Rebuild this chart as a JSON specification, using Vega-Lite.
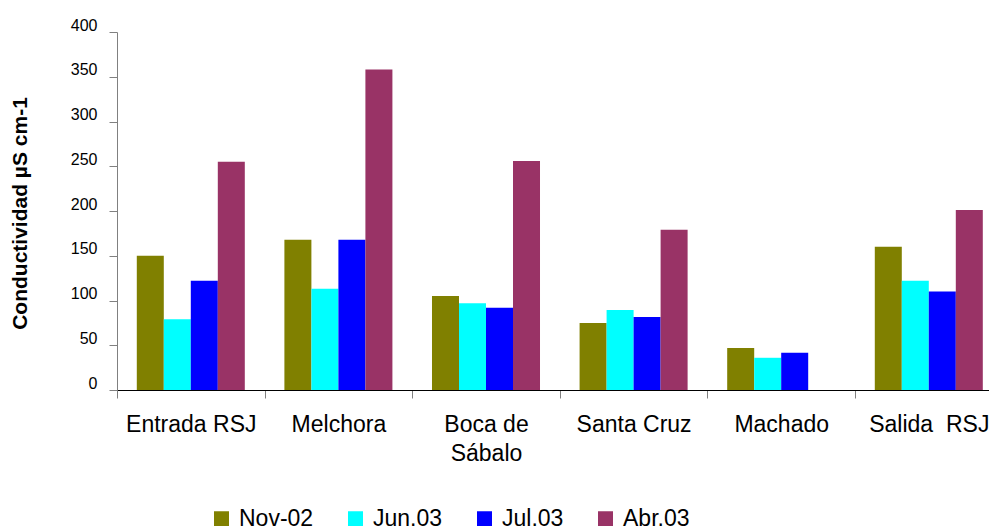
{
  "$schema": "https://vega.github.io/schema/vega-lite/v6.json",
  "autosize": {"type": "none"},
  "width": 872,
  "height": 358,
  "padding": {"left": 117, "top": 32, "right": 0, "bottom": 136},
  "background": "white",
  "config": {
    "view": {"stroke": null},
    "font": "Liberation Sans",
    "axis": {"grid": false}
  },
  "data": {
    "values": [
      {"sitio": "Entrada RSJ", "fecha": "Nov-02", "valor": 150},
      {"sitio": "Entrada RSJ", "fecha": "Jun.03", "valor": 79},
      {"sitio": "Entrada RSJ", "fecha": "Jul.03", "valor": 122},
      {"sitio": "Entrada RSJ", "fecha": "Abr.03", "valor": 255},
      {"sitio": "Melchora", "fecha": "Nov-02", "valor": 168},
      {"sitio": "Melchora", "fecha": "Jun.03", "valor": 113},
      {"sitio": "Melchora", "fecha": "Jul.03", "valor": 168},
      {"sitio": "Melchora", "fecha": "Abr.03", "valor": 358},
      {"sitio": "Boca de Sábalo", "fecha": "Nov-02", "valor": 105},
      {"sitio": "Boca de Sábalo", "fecha": "Jun.03", "valor": 97},
      {"sitio": "Boca de Sábalo", "fecha": "Jul.03", "valor": 92},
      {"sitio": "Boca de Sábalo", "fecha": "Abr.03", "valor": 256},
      {"sitio": "Santa Cruz", "fecha": "Nov-02", "valor": 75},
      {"sitio": "Santa Cruz", "fecha": "Jun.03", "valor": 89.5},
      {"sitio": "Santa Cruz", "fecha": "Jul.03", "valor": 81.5},
      {"sitio": "Santa Cruz", "fecha": "Abr.03", "valor": 179},
      {"sitio": "Machado", "fecha": "Nov-02", "valor": 47},
      {"sitio": "Machado", "fecha": "Jun.03", "valor": 36},
      {"sitio": "Machado", "fecha": "Jul.03", "valor": 41.5},
      {"sitio": "Salida\u00a0 RSJ", "fecha": "Nov-02", "valor": 160},
      {"sitio": "Salida\u00a0 RSJ", "fecha": "Jun.03", "valor": 122},
      {"sitio": "Salida\u00a0 RSJ", "fecha": "Jul.03", "valor": 110},
      {"sitio": "Salida\u00a0 RSJ", "fecha": "Abr.03", "valor": 201}
    ]
  },
  "mark": {"type": "bar"},
  "encoding": {
    "x": {
      "field": "sitio",
      "type": "nominal",
      "sort": ["Entrada RSJ", "Melchora", "Boca de Sábalo", "Santa Cruz", "Machado", "Salida\u00a0 RSJ"],
      "scale": {"range": [0, 885.6], "paddingInner": 0, "paddingOuter": 0},
      "axis": {
        "title": null,
        "labelAngle": 0,
        "labelFontSize": 23,
        "labelColor": "#000000",
        "labelPadding": 15,
        "labelBaseline": "top",
        "labelLineHeight": 29.5,
        "labelExpr": "datum.value == 'Boca de Sábalo' ? ['Boca de', 'Sábalo'] : datum.label",
        "labelOverlap": false,
        "labelBound": false,
        "labelOffset": 73.8,
        "domainColor": "#000000",
        "domainWidth": 1,
        "tickColor": "#808080",
        "tickSize": 8,
        "tickOffset": -73.8
      }
    },
    "xOffset": {
      "field": "fecha",
      "type": "nominal",
      "sort": ["Nov-02", "Jun.03", "Jul.03", "Abr.03"],
      "scale": {"paddingInner": 0, "paddingOuter": 0.733}
    },
    "y": {
      "field": "valor",
      "type": "quantitative",
      "scale": {"domain": [0, 400], "nice": false},
      "axis": {
        "title": "Conductividad µS cm-1",
        "titleFontSize": 21,
        "titleFontWeight": "bold",
        "titleColor": "#000000",
        "titleAngle": -90,
        "titleAlign": "center",
        "titleBaseline": "middle",
        "titleX": -97,
        "titleY": 181,
        "values": [0, 50, 100, 150, 200, 250, 300, 350, 400],
        "labelFontSize": 16,
        "labelColor": "#000000",
        "labelOffset": -7,
        "labelPadding": 12,
        "domainColor": "#808080",
        "tickColor": "#808080",
        "tickSize": 8
      }
    },
    "color": {
      "field": "fecha",
      "type": "nominal",
      "sort": ["Nov-02", "Jun.03", "Jul.03", "Abr.03"],
      "scale": {
        "domain": ["Nov-02", "Jun.03", "Jul.03", "Abr.03"],
        "range": ["#808000", "#00FFFF", "#0000FF", "#993366"]
      },
      "legend": {
        "title": null,
        "orient": "none",
        "direction": "horizontal",
        "columns": 4,
        "legendX": 93,
        "legendY": 475,
        "padding": 0,
        "symbolType": "square",
        "symbolSize": 225,
        "symbolStrokeWidth": 0,
        "symbolOpacity": 1,
        "labelFontSize": 23,
        "labelColor": "#000000",
        "labelOffset": 6,
        "columnPadding": 30,
        "labelLimit": 300
      }
    }
  }
}
